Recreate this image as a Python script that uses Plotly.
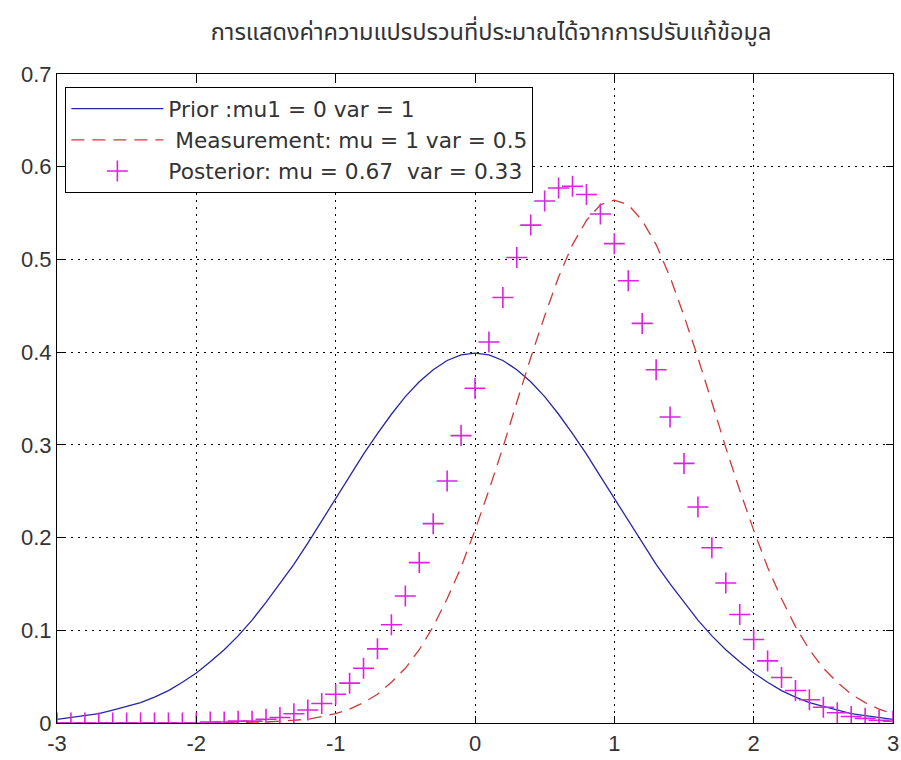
import plotly.graph_objects as go

title_text = "การแสดงค่าความแปรปรวนที่ประมาณได้จากการปรับแก้ข้อมูล"

x_values = [-3.0, -2.9, -2.8, -2.7, -2.6, -2.5, -2.4, -2.3, -2.2, -2.1,
            -2.0, -1.9, -1.8, -1.7, -1.6, -1.5, -1.4, -1.3, -1.2, -1.1,
            -1.0, -0.9, -0.8, -0.7, -0.6, -0.5, -0.4, -0.3, -0.2, -0.1,
            0.0, 0.1, 0.2, 0.3, 0.4, 0.5, 0.6, 0.7, 0.8, 0.9,
            1.0, 1.1, 1.2, 1.3, 1.4, 1.5, 1.6, 1.7, 1.8, 1.9,
            2.0, 2.1, 2.2, 2.3, 2.4, 2.5, 2.6, 2.7, 2.8, 2.9, 3.0]

prior = [0.004, 0.006, 0.008, 0.010, 0.014, 0.018, 0.022, 0.028, 0.035, 0.044,
         0.054, 0.066, 0.079, 0.094, 0.111, 0.130, 0.150, 0.171, 0.194, 0.218,
         0.242, 0.266, 0.290, 0.312, 0.333, 0.352, 0.368, 0.381, 0.391, 0.397,
         0.399, 0.397, 0.391, 0.381, 0.368, 0.352, 0.333, 0.312, 0.290, 0.266,
         0.242, 0.218, 0.194, 0.171, 0.150, 0.130, 0.111, 0.094, 0.079, 0.066,
         0.054, 0.044, 0.035, 0.028, 0.022, 0.018, 0.014, 0.010, 0.008, 0.006, 0.004]

measurement = [0.000, 0.000, 0.000, 0.000, 0.000, 0.000, 0.000, 0.000, 0.000, 0.000,
               0.000, 0.000, 0.000, 0.000, 0.001, 0.001, 0.002, 0.003, 0.004, 0.007,
               0.010, 0.015, 0.022, 0.031, 0.044, 0.059, 0.079, 0.104, 0.134, 0.168,
               0.208, 0.251, 0.297, 0.346, 0.394, 0.439, 0.481, 0.516, 0.542, 0.559,
               0.564, 0.559, 0.542, 0.516, 0.481, 0.439, 0.394, 0.346, 0.297, 0.251,
               0.208, 0.168, 0.134, 0.104, 0.079, 0.059, 0.044, 0.031, 0.022, 0.015, 0.010]

posterior = [0.000, 0.000, 0.000, 0.000, 0.000, 0.000, 0.000, 0.000, 0.000, 0.000,
             0.000, 0.001, 0.001, 0.002, 0.002, 0.004, 0.006, 0.010, 0.014, 0.021,
             0.031, 0.043, 0.059, 0.080, 0.106, 0.137, 0.173, 0.215, 0.261, 0.310,
             0.361, 0.411, 0.459, 0.502, 0.537, 0.563, 0.577, 0.579, 0.570, 0.549,
             0.517, 0.477, 0.431, 0.381, 0.330, 0.280, 0.233, 0.189, 0.151, 0.117,
             0.090, 0.067, 0.049, 0.035, 0.025, 0.017, 0.011, 0.007, 0.005, 0.003, 0.002]

series_names = ["Prior :mu1 = 0 var = 1",
                " Measurement: mu = 1 var = 0.5",
                "Posterior: mu = 0.67  var = 0.33"]

x_ticks = [-3, -2, -1, 0, 1, 2, 3]
x_tick_labels = ["-3", "-2", "-1", "0", "1", "2", "3"]
y_ticks = [0, 0.1, 0.2, 0.3, 0.4, 0.5, 0.6, 0.7]
y_tick_labels = ["0", "0.1", "0.2", "0.3", "0.4", "0.5", "0.6", "0.7"]

fig = go.Figure()
fig.add_trace(go.Scatter(x=x_values, y=prior, mode="lines", name=series_names[0],
                         line=dict(color="#2626a8", width=1.3)))
fig.add_trace(go.Scatter(x=x_values, y=measurement, mode="lines", name=series_names[1],
                         line=dict(color="#d03838", width=1.3, dash="13px,8px")))
fig.add_trace(go.Scatter(x=x_values, y=posterior, mode="markers", name=series_names[2],
                         marker=dict(symbol="cross-thin", size=15, color="#e020e0",
                                     line=dict(color="#e020e0", width=1.6))))

axis_font = dict(family="Liberation Sans, Arial, sans-serif", size=22, color="#333333")

fig.update_layout(
    width=901, height=760,
    paper_bgcolor="white", plot_bgcolor="white",
    margin=dict(l=57, r=8, t=74, b=37),
    title=dict(text=title_text, x=0.545, xanchor="center", y=0.958, yanchor="middle",
               font=dict(family="Noto Sans Thai, Noto Sans Thai Looped, Loma, Garuda, sans-serif",
                         size=23.5, color="#333333")),
    showlegend=True,
    legend=dict(x=0.01, y=0.98, xanchor="left", yanchor="top",
                bgcolor="white", bordercolor="black", borderwidth=1,
                font=dict(family="DejaVu Sans, sans-serif", size=21.7, color="#333333"),
                itemwidth=92, tracegroupgap=0),
    font=axis_font,
)
fig.update_xaxes(range=[-3, 3], tickvals=x_ticks, ticktext=x_tick_labels,
                 showgrid=True, gridcolor="black", griddash="2px,5px", gridwidth=1,
                 zeroline=False, showline=True, linecolor="black", linewidth=1.2,
                 mirror="ticks", ticks="inside", ticklen=7, tickcolor="black",
                 tickfont=axis_font, automargin=False)
fig.update_yaxes(range=[0, 0.7], tickvals=y_ticks, ticktext=y_tick_labels,
                 showgrid=True, gridcolor="black", griddash="2px,5px", gridwidth=1,
                 zeroline=False, showline=True, linecolor="black", linewidth=1.2,
                 mirror="ticks", ticks="inside", ticklen=7, tickcolor="black",
                 tickfont=axis_font, automargin=False)

fig.write_html("out.html")
